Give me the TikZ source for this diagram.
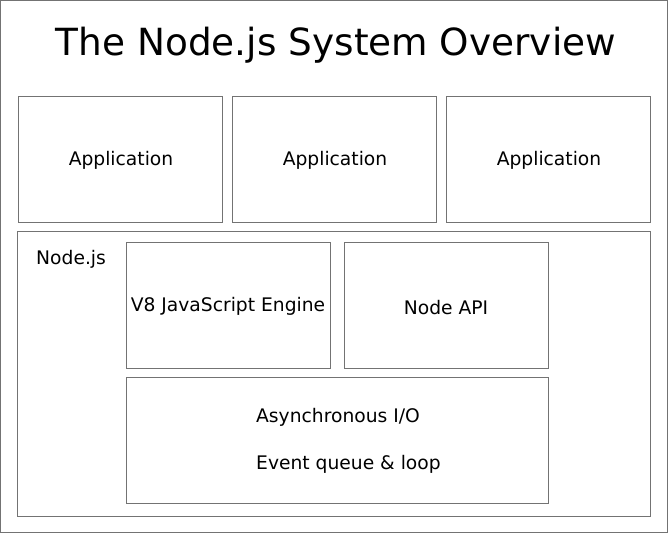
\documentclass[tikz,border=0pt]{standalone}
\usepackage{fontspec}
\setmainfont{DejaVu Sans}
\begin{document}
\begin{tikzpicture}[x=1pt,y=-1pt,
  box/.style={draw=black!55,line width=1pt},
  lbl/.style={font=\fontsize{18.7}{22}\selectfont,text=black,inner sep=0pt,anchor=base}]
\useasboundingbox (0,0) rectangle (668,533);
\draw[box] (0.5,0.5) rectangle (667.5,532.5);
\node[inner sep=0pt,anchor=base,font=\fontsize{37.4}{44}\selectfont] (title) at (336,55) {The Node.js System Overview};
\draw[box] (18.5,96.5) rectangle (222.5,222.5);
\draw[box] (232.5,96.5) rectangle (436.5,222.5);
\draw[box] (446.5,96.5) rectangle (650.5,222.5);
\node[lbl] (app1) at (121,165) {Application};
\node[lbl] (app2) at (335,165) {Application};
\node[lbl] (app3) at (549,165) {Application};
\draw[box] (17.5,231.5) rectangle (650.5,516.5);
\node[lbl,anchor=base west] (nodejs) at (36,264) {Node.js};
\draw[box] (126.5,242.5) rectangle (330.5,368.5);
\draw[box] (344.5,242.5) rectangle (548.5,368.5);
\node[lbl] (v8) at (228,311.5) {V8 JavaScript Engine};
\node[lbl] (api) at (446,314) {Node API};
\draw[box] (126.5,377.5) rectangle (548.5,503.5);
\node[lbl,anchor=base west] (async) at (256,422.5) {Asynchronous I/O};
\node[lbl,anchor=base west] (event) at (256,469) {Event queue \& loop};
\end{tikzpicture}
\end{document}
